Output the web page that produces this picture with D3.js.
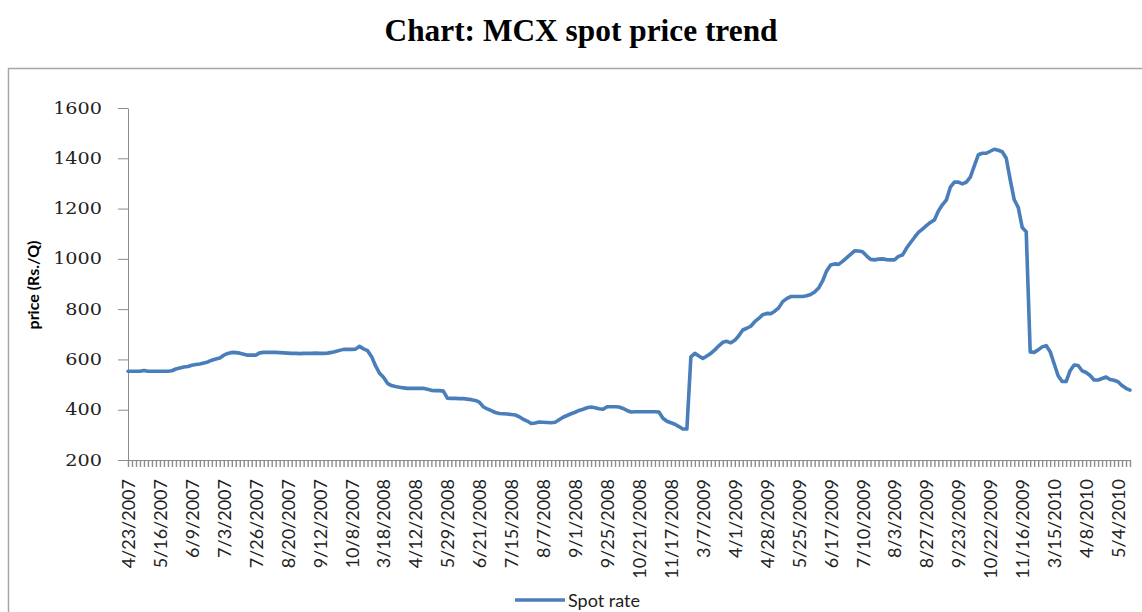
<!DOCTYPE html>
<html>
<head>
<meta charset="utf-8">
<script src="https://cdn.jsdelivr.net/npm/d3@7"></script>
<style>
  html, body { margin: 0; padding: 0; background: #fff; }
  svg { display: block; }
</style>
</head>
<body>
<svg id="chart" width="1142" height="612"></svg>
<script>
// Category labels, shown on every 8th trading day
const tickLabels = [
  '4/23/2007', '5/16/2007', '6/9/2007', '7/3/2007', '7/26/2007', '8/20/2007',
  '9/12/2007', '10/8/2007', '3/18/2008', '4/12/2008', '5/29/2008', '6/21/2008',
  '7/15/2008', '8/7/2008', '9/1/2008', '9/25/2008', '10/21/2008', '11/17/2008',
  '3/7/2009', '4/1/2009', '4/28/2009', '5/25/2009', '6/17/2009', '7/10/2009',
  '8/3/2009', '8/27/2009', '9/23/2009', '10/22/2009', '11/16/2009', '3/15/2010',
  '4/8/2010', '5/4/2010',
];
const labelEvery = 8;

// Spot rate (Rs./Q), one value per category
const spot = [
  553, 553, 553, 553, 556, 553, 553, 553,
  553, 553, 553, 555, 562, 566, 570, 572,
  577, 580, 582, 586, 590, 597, 602, 606,
  617, 624, 628, 627, 625, 621, 617, 617,
  617, 626, 628, 628, 628, 628, 627, 626,
  625, 624, 624, 623, 624, 624, 624, 625,
  624, 624, 625, 628, 632, 636, 640, 640,
  640, 641, 652, 642, 635, 612, 575, 545,
  529, 505, 496, 492, 489, 487, 485, 485,
  485, 485, 485, 481, 477, 476, 476, 474,
  446, 445, 445, 444, 444, 442, 440, 437,
  430, 412, 403, 396, 389, 385, 384, 383,
  381, 379, 372, 362, 355, 345, 347, 351,
  350, 349, 348, 350, 360, 370, 377, 384,
  390, 397, 402, 408, 411, 408, 404, 402,
  412, 412, 412, 411, 405, 397, 391, 392,
  392, 392, 392, 392, 392, 391, 366, 354,
  348, 342, 333, 323, 323, 610, 624, 614,
  604, 614, 624, 638, 654, 668, 672, 666,
  676, 694, 717, 724, 732, 750, 763, 778,
  783, 782, 792, 805, 830, 842, 850, 850,
  850, 850, 853, 858, 868, 884, 912, 952,
  976, 980, 978, 990, 1004, 1018, 1032, 1031,
  1028, 1012, 998, 996, 999, 1000, 997, 996,
  996, 1010, 1015, 1042, 1064, 1085, 1105, 1118,
  1132, 1145, 1155, 1190, 1215, 1234, 1285, 1305,
  1305, 1298, 1305, 1325, 1370, 1414, 1420, 1420,
  1428, 1436, 1432, 1426, 1400, 1314, 1235, 1205,
  1125, 1108, 630, 628, 638, 650, 655, 631,
  583, 535, 512, 512, 555, 578, 576, 555,
  548, 536, 518, 518, 524, 530, 520, 517,
  511, 496, 485, 478,
];

const yTicks = [200, 400, 600, 800, 1000, 1200, 1400, 1600];

const svg = d3.select('#chart');
const lineColor = '#4a7ebb';
const axisColor = '#8c8c8c';

const plot = { left: 128, right: 1130, top: 108, bottom: 460 };

const categories = d3.range(spot.length);

const x = d3.scalePoint()
  .domain(categories)
  .range([plot.left, plot.right]);

const y = d3.scaleLinear()
  .domain([200, 1600])
  .range([plot.bottom, plot.top]);

// Outer frame, its top edge is the rule under the title
svg.append('rect')
  .attr('x', 8.5)
  .attr('y', 68.5)
  .attr('width', 1160)
  .attr('height', 600)
  .attr('fill', 'none')
  .attr('stroke', '#a6a6a6')
  .attr('stroke-width', 1.5);

svg.append('text')
  .attr('x', 581)
  .attr('y', 41)
  .attr('text-anchor', 'middle')
  .attr('textLength', 393)
  .attr('lengthAdjust', 'spacingAndGlyphs')
  .style('font-family', '"Liberation Serif", serif')
  .style('font-weight', 'bold')
  .style('font-size', '32px')
  .attr('fill', '#000')
  .text('Chart: MCX spot price trend');

// Y axis
const yAxis = svg.append('g')
  .attr('transform', `translate(${plot.left},0)`)
  .call(d3.axisLeft(y)
    .tickValues(yTicks)
    .tickFormat(d3.format('d'))
    .tickSize(10)
    .tickPadding(16)
    .tickSizeOuter(0));

yAxis.select('.domain').attr('stroke', axisColor);
yAxis.selectAll('.tick line').attr('stroke', axisColor);
yAxis.selectAll('.tick text')
  .attr('fill', '#222')
  .style('font-family', '"DejaVu Serif", serif')
  .style('font-size', '16px')
  .each(function () {
    // the source picture is a bit stretched sideways
    const w = this.getComputedTextLength();
    d3.select(this).attr('textLength', w * 1.2).attr('lengthAdjust', 'spacingAndGlyphs');
  });

svg.append('text')
  .attr('transform', 'translate(33,285) rotate(-90)')
  .attr('text-anchor', 'middle')
  .attr('dy', '0.35em')
  .style('font-family', 'Lato, sans-serif')
  .style('font-weight', 'bold')
  .style('font-size', '16px')
  .attr('fill', '#000')
  .text('price (Rs./Q)');

// X axis: a tick on every category, a label on every 8th
const xAxis = svg.append('g')
  .attr('transform', `translate(0,${plot.bottom})`)
  .call(d3.axisBottom(x)
    .tickValues(categories)
    .tickSize(7)
    .tickSizeOuter(0)
    .tickFormat((d) => (d % labelEvery === 0 ? tickLabels[d / labelEvery] || '' : '')));

xAxis.select('.domain').attr('stroke', axisColor);
xAxis.selectAll('.tick line').attr('stroke', axisColor).attr('stroke-width', 1.4);
xAxis.selectAll('.tick text')
  .attr('transform', 'rotate(-90)')
  .attr('x', -19)
  .attr('y', 0)
  .attr('dy', '0.36em')
  .attr('text-anchor', 'end')
  .attr('fill', '#222')
  .style('font-family', 'Lato, sans-serif')
  .style('font-size', '18px');

// The spot rate line
const line = d3.line()
  .x((d, i) => x(categories[i]))
  .y((d) => y(d));

svg.append('path')
  .datum(spot)
  .attr('fill', 'none')
  .attr('stroke', lineColor)
  .attr('stroke-width', 3.6)
  .attr('stroke-linejoin', 'round')
  .attr('stroke-linecap', 'round')
  .attr('d', line);

// Legend
const legend = svg.append('g').attr('transform', 'translate(515,600)');
legend.append('line')
  .attr('x1', 0)
  .attr('x2', 50)
  .attr('stroke', lineColor)
  .attr('stroke-width', 3.6);
legend.append('text')
  .attr('x', 53)
  .attr('y', 7)
  .attr('fill', '#222')
  .style('font-family', 'Lato, sans-serif')
  .style('font-size', '18px')
  .text('Spot rate');
</script>
</body>
</html>
